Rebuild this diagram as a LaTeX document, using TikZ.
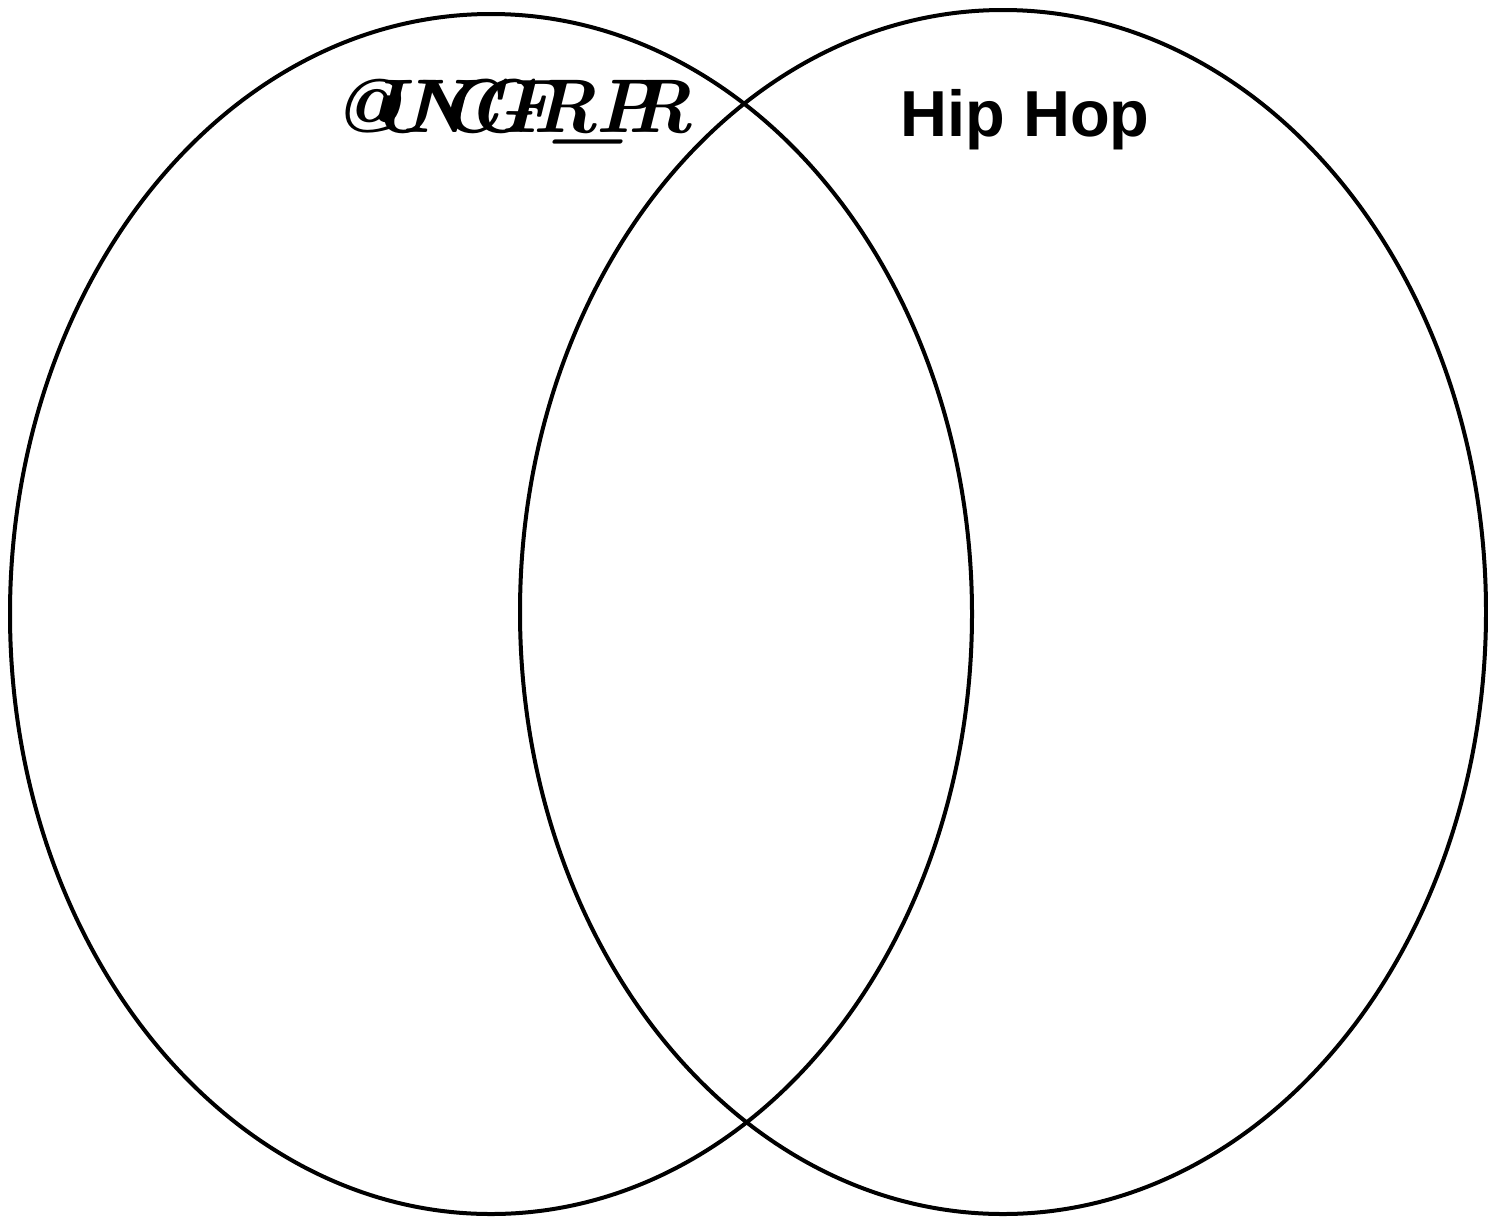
\documentclass[tikz,border=0pt]{standalone}
\usepackage{fontspec}
\newfontfamily\hipfont{Liberation Sans}
\begin{document}
\begin{tikzpicture}[x=1pt,y=-1pt,
  venn/.style={draw=black,line width=4pt},
  scriptglyph/.style={inner sep=0pt,font=\fontsize{76}{76}\selectfont\bfseries\itshape},
  title/.style={inner sep=0pt,font=\hipfont\bfseries\fontsize{65}{65}\selectfont}]
\useasboundingbox (0,0) rectangle (1488,1216);
\fill[white] (0,0) rectangle (1488,1216);
\draw[venn] (491,614) ellipse [x radius=481, y radius=600];
\draw[venn] (1003,612) ellipse [x radius=483, y radius=602];
\node[title] (hiphop) at (1025,120) {Hip Hop};
\node[scriptglyph] (garbled) at (513,112) {@\kern-32pt U\kern-34pt N\kern-32pt C\kern-34pt G\kern-34pt F\kern-24pt R\kern-40pt\_\kern-28pt P\kern-28pt R};
\end{tikzpicture}
\end{document}
